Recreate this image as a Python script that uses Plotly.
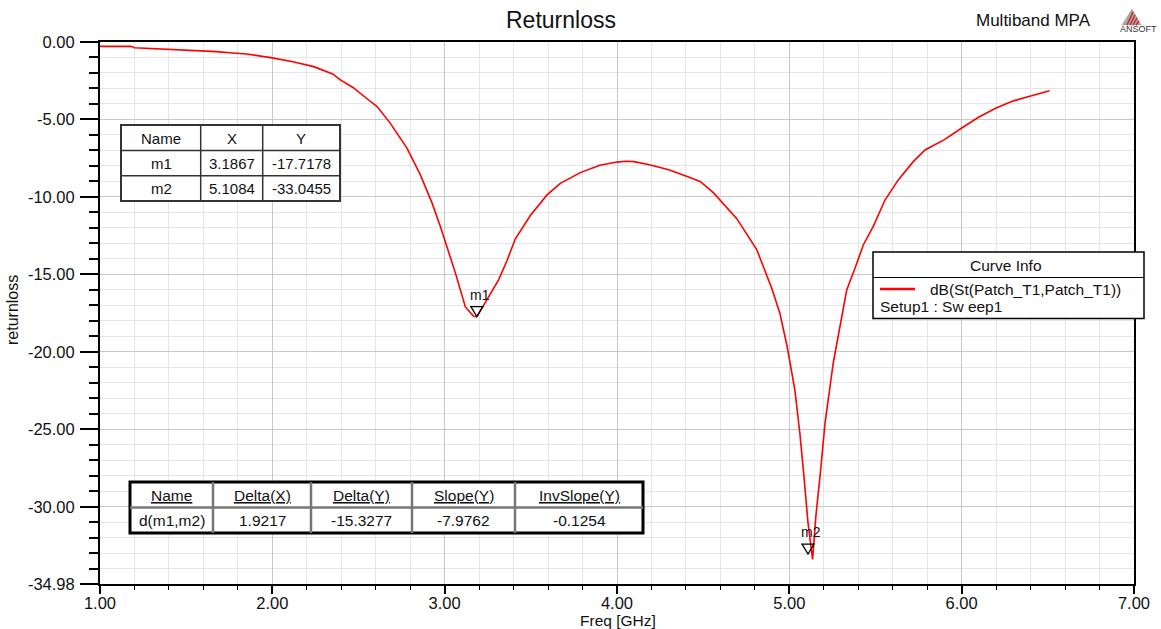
import plotly.graph_objects as go

# ---------------- data ----------------
freq_ghz = [1.00, 1.18, 1.20, 1.385, 1.54, 1.676, 1.77, 1.85, 1.99, 2.12, 2.24, 2.35, 2.395,
            2.47, 2.546, 2.608, 2.685, 2.782, 2.859, 2.927, 2.975, 3.014, 3.062, 3.12, 3.168,
            3.187, 3.246, 3.313, 3.362, 3.41, 3.497, 3.594, 3.671, 3.787, 3.90, 4.00, 4.05,
            4.10, 4.20, 4.30, 4.40, 4.482, 4.559, 4.695, 4.811, 4.898, 4.945, 4.988, 5.032,
            5.061, 5.085, 5.108, 5.135, 5.154, 5.182, 5.207, 5.255, 5.294, 5.333, 5.381,
            5.429, 5.487, 5.555, 5.632, 5.719, 5.787, 5.90, 6.00, 6.10, 6.20, 6.30, 6.40, 6.51]
return_loss_db = [-0.28, -0.28, -0.37, -0.45, -0.56, -0.62, -0.71, -0.77, -1.01, -1.27, -1.59,
                  -2.06, -2.45, -2.95, -3.63, -4.17, -5.25, -6.86, -8.58, -10.4, -11.9, -13.2,
                  -14.9, -17.1, -17.7, -17.72, -16.6, -15.35, -14.1, -12.7, -11.2, -9.87, -9.12,
                  -8.43, -7.95, -7.75, -7.7, -7.72, -7.95, -8.25, -8.65, -9.0, -9.72, -11.4,
                  -13.4, -15.9, -17.5, -19.7, -22.45, -25.25, -28.05, -31.0, -33.4, -30.6,
                  -27.6, -24.6, -20.7, -18.3, -16.0, -14.6, -13.1, -11.9, -10.2, -8.9, -7.72,
                  -6.97, -6.3, -5.55, -4.84, -4.26, -3.8, -3.48, -3.15]

marker_names = ["m1", "m2"]
marker_freq = [3.1867, 5.1084]
marker_db = [-17.7178, -33.0455]

marker_table_headers = ["Name", "X", "Y"]
delta_headers = ["Name", "Delta(X)", "Delta(Y)", "Slope(Y)", "InvSlope(Y)"]
delta_row = ["d(m1,m2)", "1.9217", "-15.3277", "-7.9762", "-0.1254"]

x_tick_vals = [1, 2, 3, 4, 5, 6, 7]
y_tick_vals = [0, -5, -10, -15, -20, -25, -30, -34.98]
x_minor_vals = [round(1 + 0.2 * i, 2) for i in range(31) if i % 5 != 0]
y_minor_vals = [-i for i in range(1, 35) if i % 5 != 0]

curve_name = "dB(St(Patch_T1,Patch_T1))"
setup_name = "Setup1 : Sw eep1"

FONT = "Arial, 'Liberation Sans', sans-serif"

# ---------------- pixel -> paper helpers (layout only) ----------------
L, R, T, B = 100, 1134, 42, 584
def fx(p):
    return (p - L) / (R - L)
def fy(p):
    return (B - p) / (B - T)

shapes = []
annotations = []

def rect(x0, y0, x1, y1, color="black", width=1.5, fill="white"):
    shapes.append(dict(type="rect", xref="paper", yref="paper",
                       x0=fx(x0), x1=fx(x1), y0=fy(y1), y1=fy(y0),
                       line=dict(color=color, width=width), fillcolor=fill, layer="above"))

def line(x0, y0, x1, y1, color="black", width=1.5):
    shapes.append(dict(type="line", xref="paper", yref="paper",
                       x0=fx(x0), x1=fx(x1), y0=fy(y0), y1=fy(y1),
                       line=dict(color=color, width=width), layer="above"))

def text(x, y, s, size=15, anchor="center", color="#111", angle=0):
    annotations.append(dict(xref="paper", yref="paper", x=fx(x), y=fy(y), text=s,
                            showarrow=False, xanchor=anchor, yanchor="middle",
                            textangle=angle, font=dict(family=FONT, size=size, color=color)))

# ---------------- figure ----------------
fig = go.Figure()
fig.add_trace(go.Scatter(x=freq_ghz, y=return_loss_db, mode="lines",
                         line=dict(color="#ff0000", width=1.6), name=curve_name,
                         showlegend=False))

# marker triangles (pixel-sized shapes anchored to data points)
for name, mx, my in zip(marker_names, marker_freq, marker_db):
    shapes.append(dict(type="path", xref="x", yref="y", xsizemode="pixel", ysizemode="pixel",
                       xanchor=mx, yanchor=my, path="M-6,10 L6,10 L0,0 Z",
                       line=dict(color="black", width=1.3), fillcolor="rgba(0,0,0,0)",
                       layer="above"))
    annotations.append(dict(x=mx, y=my, xref="x", yref="y", text=name, showarrow=False,
                            yshift=22, xshift=3, font=dict(family=FONT, size=14, color="#111")))

# marker table
rect(121, 125, 340, 201, color="#333", width=2)
line(121, 150.5, 340, 150.5, color="#333", width=1.5)
line(121, 175.7, 340, 175.7, color="#333", width=1.5)
line(200.7, 125, 200.7, 201, color="#333", width=1.5)
line(262.7, 125, 262.7, 201, color="#333", width=1.5)
col_c = [161, 231.7, 301.3]
for h, cx in zip(marker_table_headers, col_c):
    text(cx, 138, h, size=15)
for i, (name, mx, my) in enumerate(zip(marker_names, marker_freq, marker_db)):
    cy = 163 + 25 * i
    text(col_c[0], cy, name, size=15)
    text(col_c[1], cy, f"{mx:.4f}", size=15)
    text(col_c[2], cy, f"{my:.4f}", size=15)

# delta table
d_edges = [130, 213, 311, 412, 515, 643]
rect(d_edges[0], 482, d_edges[-1], 533, color="black", width=3)
line(d_edges[0], 507.5, d_edges[-1], 507.5, color="#777", width=2.5)
for xe in d_edges[1:-1]:
    line(xe, 482, xe, 533, color="#777", width=2.5)
for i, (h, v) in enumerate(zip(delta_headers, delta_row)):
    cx = (d_edges[i] + d_edges[i + 1]) / 2
    text(cx, 495, f"<u>{h}</u>", size=15.5)
    text(cx, 520, v, size=15.5)

# curve info box
rect(873, 252, 1144, 318.5, color="black", width=1.5)
line(873, 277.5, 1144, 277.5, color="black", width=1)
text(1006, 265, "Curve Info", size=15.5)
line(880, 289, 915, 289, color="#ff0000", width=2.5)
text(928, 289, curve_name, size=15.5, anchor="left")
text(878, 306, setup_name, size=15.5, anchor="left")

# titles
text(561, 20, "Returnloss", size=23)
text(1033, 20, "Multiband MPA", size=17)
text(618, 620, "Freq [GHz]", size=15.5)
text(12, 310, "returnloss", size=16, angle=-90)

# ANSOFT logo
shapes.append(dict(type="path", xref="paper", yref="paper",
                   path=f"M{fx(1122)},{fy(25)} L{fx(1132)},{fy(9)} L{fx(1141)},{fy(25)} Z",
                   line=dict(color="#9a9a9a", width=0.5), fillcolor="#a8a8a8", layer="above"))
for k in range(4):
    line(1127 + 3 * k, 25, 1133 + 2 * k, 12 + 3 * k, color="#d42020", width=1.4)
text(1138, 28.5, "ANSOFT", size=9, color="#333")

fig.update_layout(
    width=1161, height=629,
    margin=dict(l=L, r=1161 - R, t=T, b=629 - B),
    paper_bgcolor="white", plot_bgcolor="white",
    font=dict(family=FONT, size=16, color="#111"),
    showlegend=False,
    shapes=shapes, annotations=annotations,
    xaxis=dict(range=[1, 7], tickmode="array", tickvals=x_tick_vals,
               ticktext=[f"{v:.2f}" for v in x_tick_vals],
               ticks="outside", ticklen=8, tickwidth=1.5, tickcolor="black",
               ticklabelstandoff=-5,
               showline=True, linecolor="black", linewidth=2, mirror=True,
               showgrid=True, gridcolor="#c8c8c8", gridwidth=1, zeroline=False,
               tickfont=dict(family=FONT, size=16.5, color="#111"),
               minor=dict(tickmode="array", tickvals=x_minor_vals, ticks="outside",
                          ticklen=4, tickwidth=1.3, tickcolor="black",
                          showgrid=True, gridcolor="#e6e6e6", gridwidth=1)),
    yaxis=dict(range=[-34.98, 0], tickmode="array", tickvals=y_tick_vals,
               ticktext=[f"{v:.2f}" for v in y_tick_vals],
               ticks="outside", ticklen=18, tickwidth=1.8, tickcolor="black",
               ticklabelstandoff=2,
               showline=True, linecolor="black", linewidth=2, mirror=True,
               showgrid=True, gridcolor="#c8c8c8", gridwidth=1, zeroline=False,
               tickfont=dict(family=FONT, size=16.5, color="#111"),
               minor=dict(tickmode="array", tickvals=y_minor_vals, ticks="outside",
                          ticklen=9, tickwidth=1.5, tickcolor="black",
                          showgrid=True, gridcolor="#e6e6e6", gridwidth=1)),
)

fig.write_html("out.html", config={"displayModeBar": False},
               post_script="document.body.style.margin='0';document.body.style.overflow='hidden';")
